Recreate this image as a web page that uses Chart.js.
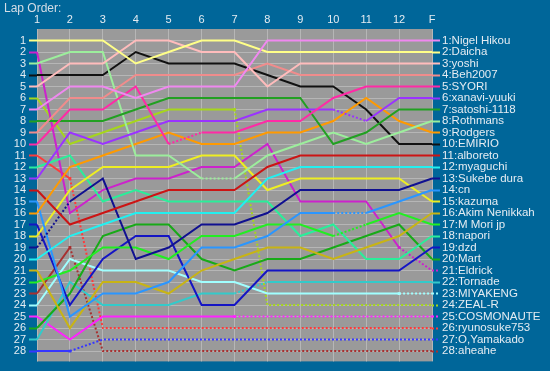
<!DOCTYPE html>
<html>
<head>
<meta charset="utf-8">
<script src="https://cdn.jsdelivr.net/npm/chart.js@4.4.0/dist/chart.umd.min.js"></script>
<style>
  html, body { margin: 0; padding: 0; background: #006699; }
  canvas { display: block; }
</style>
</head>
<body>
<canvas id="lapChart" width="550" height="371"></canvas>
<script>
const laps = ['1', '2', '3', '4', '5', '6', '7', '8', '9', '10', '11', '12', 'F'];
const rows = [1, 2, 3, 4, 5, 6, 7, 8, 9, 10, 11, 12, 13, 14, 15, 16, 17, 18, 19, 20, 21, 22, 23, 24, 25, 26, 27, 28];

// drivers in finishing order
const drivers = ['Nigel Hikou', 'Daicha', 'yoshi', 'Beh2007', 'SYORI', 'xanavi-yuuki', 'satoshi-1118',
  'Rothmans', 'Rodgers', 'EMIRIO', 'alboreto', 'myaguchi', 'Sukebe dura', 'cn', 'kazuma',
  'Akim Nenikkah', 'M Mori jp', 'napori', 'dzd', 'Mart', 'Eldrick', 'Tornade', 'MIYAKENG',
  'ZEAL-R', 'COSMONAUTE', 'ryunosuke753', 'O,Yamakado', 'aheahe'];

// position at each lap
const nigelHikou  = [7, 5, 5, 6, 5, 5, 5, 1, 1, 1, 1, 1, 1];
const daicha      = [1, 1, 1, 3, 2, 1, 1, 2, 2, 2, 2, 2, 2];
const yoshi       = [5, 3, 3, 1, 1, 2, 2, 5, 3, 3, 3, 3, 3];
const beh2007     = [9, 6, 6, 4, 4, 4, 4, 3, 4, 4, 4, 4, 4];
const syori       = [10, 7, 7, 5, 10, 9, 9, 8, 8, 6, 5, 5, 5];
const xanavi      = [13, 9, 10, 9, 8, 8, 8, 7, 7, 7, 8, 6, 6];
const satoshi     = [8, 8, 8, 7, 6, 6, 6, 6, 6, 10, 9, 7, 7];
const rothmans    = [3, 2, 2, 11, 11, 13, 13, 11, 10, 9, 10, 9, 8];
const rodgers     = [16, 12, 11, 10, 9, 10, 10, 9, 9, 8, 6, 8, 9];
const emirio      = [4, 4, 4, 2, 3, 3, 3, 4, 5, 5, 7, 10, 10];
const alboreto    = [14, 17, 16, 15, 14, 14, 14, 12, 11, 11, 11, 11, 11];
const myaguchi    = [20, 18, 17, 16, 16, 16, 16, 13, 12, 12, 12, 12, 12];
const sukebeDura  = [19, 15, 13, 20, 19, 17, 17, 16, 14, 14, 14, 14, 13];
const cn          = [15, 25, 23, 23, 22, 19, 19, 18, 16, 16, 16, 15, 14];
const kazuma      = [18, 14, 12, 12, 12, 11, 11, 14, 13, 13, 13, 13, 15];
const akim        = [21, 26, 22, 22, 23, 21, 20, 19, 19, 20, 19, 18, 16];
const mMori       = [22, 21, 19, 19, 20, 18, 18, 17, 17, 18, 17, 16, 17];
const napori      = [12, 11, 15, 14, 15, 15, 15, 15, 18, 17, 20, 20, 18];
const dzd         = [17, 24, 20, 18, 18, 24, 24, 21, 21, 21, 21, 21, 19];
const mart        = [26, 23, 18, 17, 17, 20, 21, 20, 20, 19, 18, 17, 20];
const eldrick     = [2, 16, 14, 13, 13, 12, 12, 10, 15, 15, 15, 19, 21];
const tornade     = [27, 22, 24, 24, 24, 23, 23, 22, 22, 22, 22, 22, 22];
const miyakeng    = [24, 20, 21, 21, 21, 22, 22, 23, 23, 23, 23, 23, 23];
const zealR       = [6, 10, 9, 8, 7, 7, 7, 24, 24, 24, 24, 24, 24];
const cosmonaute  = [25, 27, 25, 25, 25, 25, 25, 25, 25, 25, 25, 25, 25];
const ryunosuke   = [11, 13, 26, 26, 26, 26, 26, 26, 26, 26, 26, 26, 26];
const oYamakado   = [28, 28, 27, 27, 27, 27, 27, 27, 27, 27, 27, 27, 27];
const aheahe      = [23, 19, 28, 28, 28, 28, 28, 28, 28, 28, 28, 28, 28];

const positions = [nigelHikou, daicha, yoshi, beh2007, syori, xanavi, satoshi, rothmans, rodgers,
  emirio, alboreto, myaguchi, sukebeDura, cn, kazuma, akim, mMori, napori, dzd, mart, eldrick,
  tornade, miyakeng, zealR, cosmonaute, ryunosuke, oYamakado, aheahe];

// segments (start lap index) drawn dotted
const after = i => laps.slice(i, laps.length - 1).map((_, k) => i + k);
const dotted = [[], [], [], [], [4], [9], [], [5], [], [], [], [], [0], [9], [], [], [9], [], [], [],
  [11], [6], [11], after(6), after(6), after(1), after(1), after(1)];

const colors = ['#f088f0', '#ffff88', '#ffbcbc', '#f08c8c', '#ff2aa6', '#9a33ff', '#22a022',
  '#9cee9c', '#ff9a00', '#111111', '#cc1414', '#22f0f0', '#101090', '#2a96ff', '#eeee22',
  '#c8b414', '#22ee22', '#2aee9a', '#1414c4', '#18aa18', '#cc22cc', '#33caca', '#a0ffff',
  '#a6d61c', '#ff22ff', '#ff3a3a', '#3636ff', '#a83030'];

const startColor = r => colors[positions.findIndex(p => p[0] === r)];
const retiredAt = dotted.map(d => {
  if (!d.length || d[d.length - 1] !== laps.length - 2) return -1;
  let s = d[d.length - 1];
  while (d.includes(s - 1)) s--;
  return s;
});

const backdrop = {
  id: 'backdrop',
  beforeDraw(chart) {
    const { ctx, chartArea: a } = chart;
    ctx.save();
    ctx.fillStyle = '#006699';
    ctx.fillRect(0, 0, chart.width, chart.height);
    ctx.fillStyle = '#9a9a9a';
    ctx.fillRect(a.left, a.top, a.right - a.left, a.bottom - a.top);
    ctx.fillStyle = '#d4dde6';
    ctx.font = '12px "Liberation Sans", Arial, sans-serif';
    ctx.textBaseline = 'middle';
    ctx.fillText('Lap Order:', 4, 9);
    ctx.restore();
  }
};

const font = { family: '"Liberation Sans", Arial, sans-serif', size: 11 };

new Chart(document.getElementById('lapChart'), {
  type: 'line',
  data: {
    labels: laps,
    datasets: positions.map((p, i) => ({
      label: drivers[i],
      data: p,
      borderColor: colors[i],
      backgroundColor: colors[i],
      borderWidth: 2,
      tension: 0,
      fill: false,
      pointStyle: 'rect',
      pointRadius: ctx => ctx.dataIndex === retiredAt[i] ? 2 : 0,
      pointBorderWidth: 0,
      segment: {
        borderDash: ctx => dotted[i].includes(ctx.p0DataIndex) ? [2, 2] : undefined
      }
    }))
  },
  options: {
    responsive: false,
    devicePixelRatio: 1,
    animation: false,
    layout: { padding: { top: 0, bottom: 9, left: 0, right: 0 } },
    plugins: {
      legend: { display: false },
      tooltip: { enabled: false }
    },
    scales: {
      x: {
        position: 'top',
        offset: false,
        grid: { color: '#b6b6b6', lineWidth: 1, drawTicks: false },
        border: { display: false },
        ticks: { color: '#e4ecf2', font: font, padding: 2, maxRotation: 0, autoSkip: false },
        afterFit(s) { s.height = 29; }
      },
      y: {
        position: 'left',
        reverse: true,
        min: 0,
        max: 28.9,
        afterBuildTicks(s) { s.ticks = rows.map(v => ({ value: v })); },
        grid: {
          color: '#b6b6b6', lineWidth: 1, tickLength: 8, tickWidth: 2,
          tickColor: ctx => startColor(ctx.tick.value)
        },
        border: { display: false },
        ticks: { color: '#e4ecf2', font: font, padding: 3, autoSkip: false, callback: v => v },
        afterFit(s) { s.width = 37; }
      },
      y2: {
        position: 'right',
        reverse: true,
        min: 0,
        max: 28.9,
        afterBuildTicks(s) { s.ticks = rows.map(v => ({ value: v })); },
        grid: {
          drawOnChartArea: false, tickLength: 8, tickWidth: 2,
          tickColor: ctx => colors[ctx.tick.value - 1],
          tickBorderDash: ctx => retiredAt[ctx.tick.value - 1] >= 0 ? [2, 2] : []
        },
        border: { display: false },
        ticks: {
          color: '#e4ecf2',
          font: { family: font.family, size: 11.5 },
          padding: 2,
          autoSkip: false,
          callback: v => v + ':' + drivers[v - 1]
        },
        afterFit(s) { s.width = 118; }
      }
    }
  },
  plugins: [backdrop]
});
</script>
</body>
</html>
